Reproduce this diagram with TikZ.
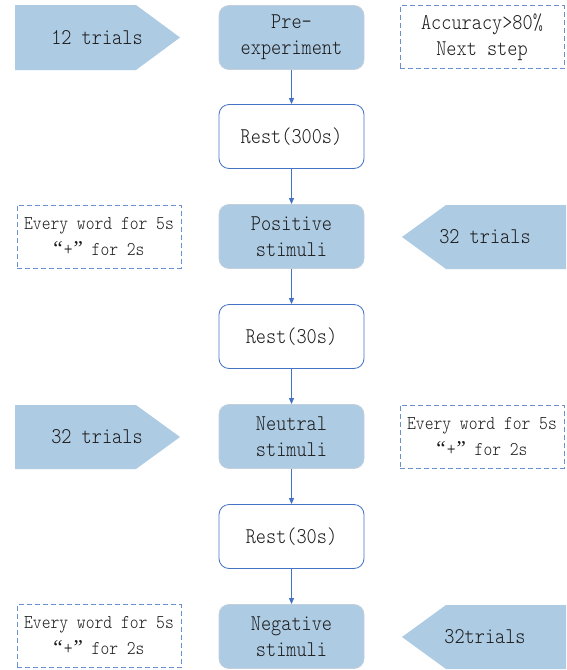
\documentclass[tikz,border=0pt]{standalone}
\usepackage{fontspec}
\setmonofont[FakeStretch=0.86]{lmmonolt10-regular.otf}
\newfontfamily\quotefont{Liberation Serif}
\newcommand{\myopenq}{{\quotefont\fontsize{21}{26}\selectfont “}\hspace{1pt}}
\newcommand{\mycloseq}{\hspace{1pt}{\quotefont\fontsize{21}{26}\selectfont ”}}
\usetikzlibrary{arrows.meta}
\definecolor{fillblue}{HTML}{ADCBE3}
\definecolor{edgegrey}{HTML}{C3CFDC}
\definecolor{lineblue}{HTML}{4472C4}
\definecolor{dashblue}{HTML}{6B8FD0}
\definecolor{txt}{HTML}{1A1A1A}
\tikzset{
  mainfont/.style={font={\ttfamily\fontsize{22.5}{26}\selectfont}, text=txt, align=center},
  smallfont/.style={font={\ttfamily\fontsize{19.5}{26}\selectfont}, text=txt, align=center},
  stage/.style={mainfont, draw=edgegrey, line width=0.8pt, fill=fillblue, rounded corners=10pt, minimum width=145pt, minimum height=64pt, inner sep=0pt},
  restbox/.style={mainfont, draw=lineblue, line width=0.8pt, fill=white, rounded corners=10pt, minimum width=145pt, minimum height=64pt, inner sep=0pt},
  notebox/.style={draw=dashblue, line width=0.8pt, dash pattern=on 5pt off 3pt, minimum width=164pt, minimum height=63pt, inner sep=0pt},
  flow/.style={draw=lineblue, line width=0.9pt, -{Triangle[length=6pt,width=5pt]}},
  trialshape/.style={fill=fillblue, draw=none},
}
\begin{document}
\begin{tikzpicture}[x=1pt,y=-1pt]
\useasboundingbox (0,0) rectangle (566,670);
% main column
\node[stage]   (pre)   at (291.5,37.5) {Pre-\\experiment};
\node[restbox] (rest1) at (291.5,136.5) {Rest(300s)};
\node[stage]   (pos)   at (291.5,236.5) {Positive\\stimuli};
\node[restbox] (rest2) at (291.5,336.5) {Rest(30s)};
\node[stage]   (neu)   at (291.5,436.5) {Neutral\\stimuli};
\node[restbox] (rest3) at (291.5,536.5) {Rest(30s)};
\node[stage]   (neg)   at (291.5,636.5) {Negative\\stimuli};
\draw[flow] (pre) -- (rest1);
\draw[flow] (rest1) -- (pos);
\draw[flow] (pos) -- (rest2);
\draw[flow] (rest2) -- (neu);
\draw[flow] (neu) -- (rest3);
\draw[flow] (rest3) -- (neg);
% trial arrows
\path[trialshape] (15,5) -- (136,5) -- (180,37.5) -- (136,70) -- (15,70) -- cycle;
\node[mainfont] (t1) at (97,38) {12 trials};
\path[trialshape] (566,205) -- (446,205) -- (402,237) -- (446,269) -- (566,269) -- cycle;
\node[mainfont] (t2) at (485,237) {32 trials};
\path[trialshape] (15,405) -- (136,405) -- (180,437) -- (136,469) -- (15,469) -- cycle;
\node[mainfont] (t3) at (97,437) {32 trials};
\path[trialshape] (566,605) -- (446,605) -- (402,637) -- (446,669) -- (566,669) -- cycle;
\node[mainfont] (t4) at (485,637) {32trials};
% notes
\node[notebox] (n1) at (482,37) {};
\node[mainfont] (n1t) at (n1) {Accuracy>80\%\\Next step};
\node[notebox] (n2) at (99,236.5) {};
\node[smallfont] (n2t) at (n2) {Every word for 5s\\\myopenq+\mycloseq{} for 2s};
\node[notebox] (n3) at (482,436.5) {};
\node[smallfont] (n3t) at (n3) {Every word for 5s\\\myopenq+\mycloseq{} for 2s};
\node[notebox] (n4) at (99,636) {};
\node[smallfont] (n4t) at (n4) {Every word for 5s\\\myopenq+\mycloseq{} for 2s};
\end{tikzpicture}
\end{document}
